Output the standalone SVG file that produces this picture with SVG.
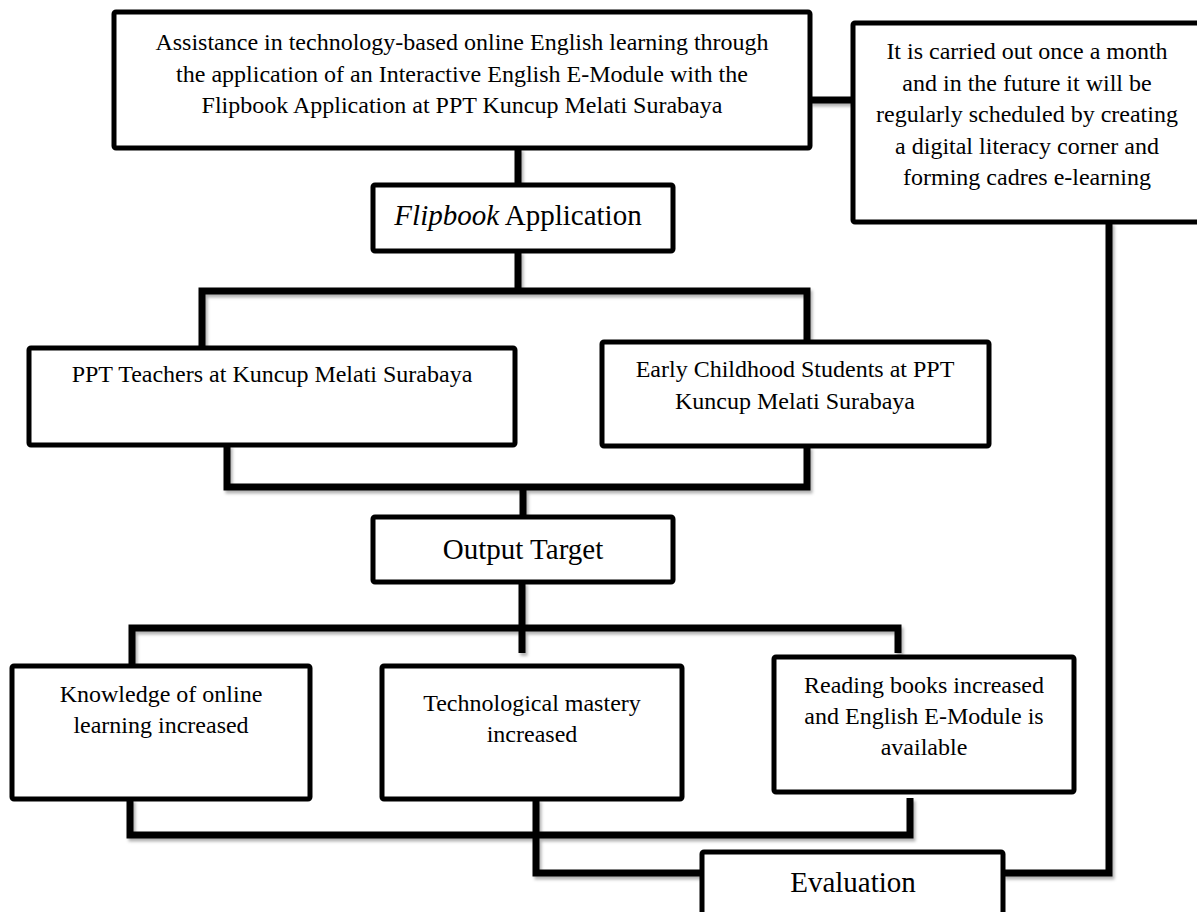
<svg xmlns="http://www.w3.org/2000/svg" width="1197" height="912" viewBox="0 0 1197 912">
<style>
.box{fill:#fff;stroke:#000;stroke-width:5;stroke-linejoin:round}
.t{font-family:"Liberation Serif","Times New Roman",serif;font-size:24px;fill:#000;text-anchor:middle}
.big{font-size:29px}
.con{fill:none;stroke:#000;stroke-width:7;stroke-linejoin:miter;stroke-linecap:butt}
</style>
<defs>
<filter id="sh" x="-5%" y="-5%" width="110%" height="110%">
<feDropShadow dx="2" dy="3" stdDeviation="1.5" flood-color="#000" flood-opacity="0.3"/>
</filter>
</defs>
<rect width="1197" height="912" fill="#fff"/>
<g id="connectors" filter="url(#sh)">
<path class="con" d="M518 148V185"/>
<path class="con" d="M810 100H853"/>
<path class="con" d="M518 251V291"/>
<path class="con" d="M202 348V291H807V342"/>
<path class="con" d="M227 445V487H807V446"/>
<path class="con" d="M523 487V517"/>
<path class="con" d="M522 582V653"/>
<path class="con" d="M132 666V628H898V653"/>
<path class="con" d="M130 799V835H910V798"/>
<path class="con" d="M536 799V873H702"/>
<path class="con" d="M1003 873H1109V222"/>
</g>
<g id="n-top">
<rect class="box" x="114" y="12" width="696" height="136" rx="2"/>
<text class="t" x="462" y="50">Assistance in technology-based online English learning through</text>
<text class="t" x="462" y="82">the application of an Interactive English E-Module with the</text>
<text class="t" x="462" y="113">Flipbook Application at PPT Kuncup Melati Surabaya</text>
</g>
<g id="n-schedule">
<rect class="box" x="853" y="23" width="360" height="199" rx="2"/>
<text class="t" x="1027" y="59">It is carried out once a month</text>
<text class="t" x="1027" y="91">and in the future it will be</text>
<text class="t" x="1027" y="122">regularly scheduled by creating</text>
<text class="t" x="1027" y="154">a digital literacy corner and</text>
<text class="t" x="1027" y="185">forming cadres e-learning</text>
</g>
<g id="n-flipbook">
<rect class="box" x="373" y="185" width="300" height="66" rx="2"/>
<text class="t big" x="518" y="225"><tspan font-style="italic">Flipbook</tspan> Application</text>
</g>
<g id="n-teachers">
<rect class="box" x="29" y="348" width="486" height="97" rx="2"/>
<text class="t" x="272" y="382">PPT Teachers at Kuncup Melati Surabaya</text>
</g>
<g id="n-students">
<rect class="box" x="602" y="342" width="387" height="104" rx="2"/>
<text class="t" x="795" y="377">Early Childhood Students at PPT</text>
<text class="t" x="795" y="409">Kuncup Melati Surabaya</text>
</g>
<g id="n-output">
<rect class="box" x="373" y="517" width="300" height="65" rx="2"/>
<text class="t big" x="523" y="559">Output Target</text>
</g>
<g id="n-knowledge">
<rect class="box" x="12" y="666" width="298" height="133" rx="2"/>
<text class="t" x="161" y="702">Knowledge of online</text>
<text class="t" x="161" y="733">learning increased</text>
</g>
<g id="n-tech">
<rect class="box" x="382" y="666" width="300" height="133" rx="2"/>
<text class="t" x="532" y="711">Technological mastery</text>
<text class="t" x="532" y="742">increased</text>
</g>
<g id="n-reading">
<rect class="box" x="774" y="657" width="300" height="135" rx="2"/>
<text class="t" x="924" y="693">Reading books increased</text>
<text class="t" x="924" y="724">and English E-Module is</text>
<text class="t" x="924" y="755">available</text>
</g>
<g id="n-evaluation">
<rect class="box" x="702" y="852" width="301" height="80" rx="2"/>
<text class="t big" x="853" y="892">Evaluation</text>
</g>
</svg>
